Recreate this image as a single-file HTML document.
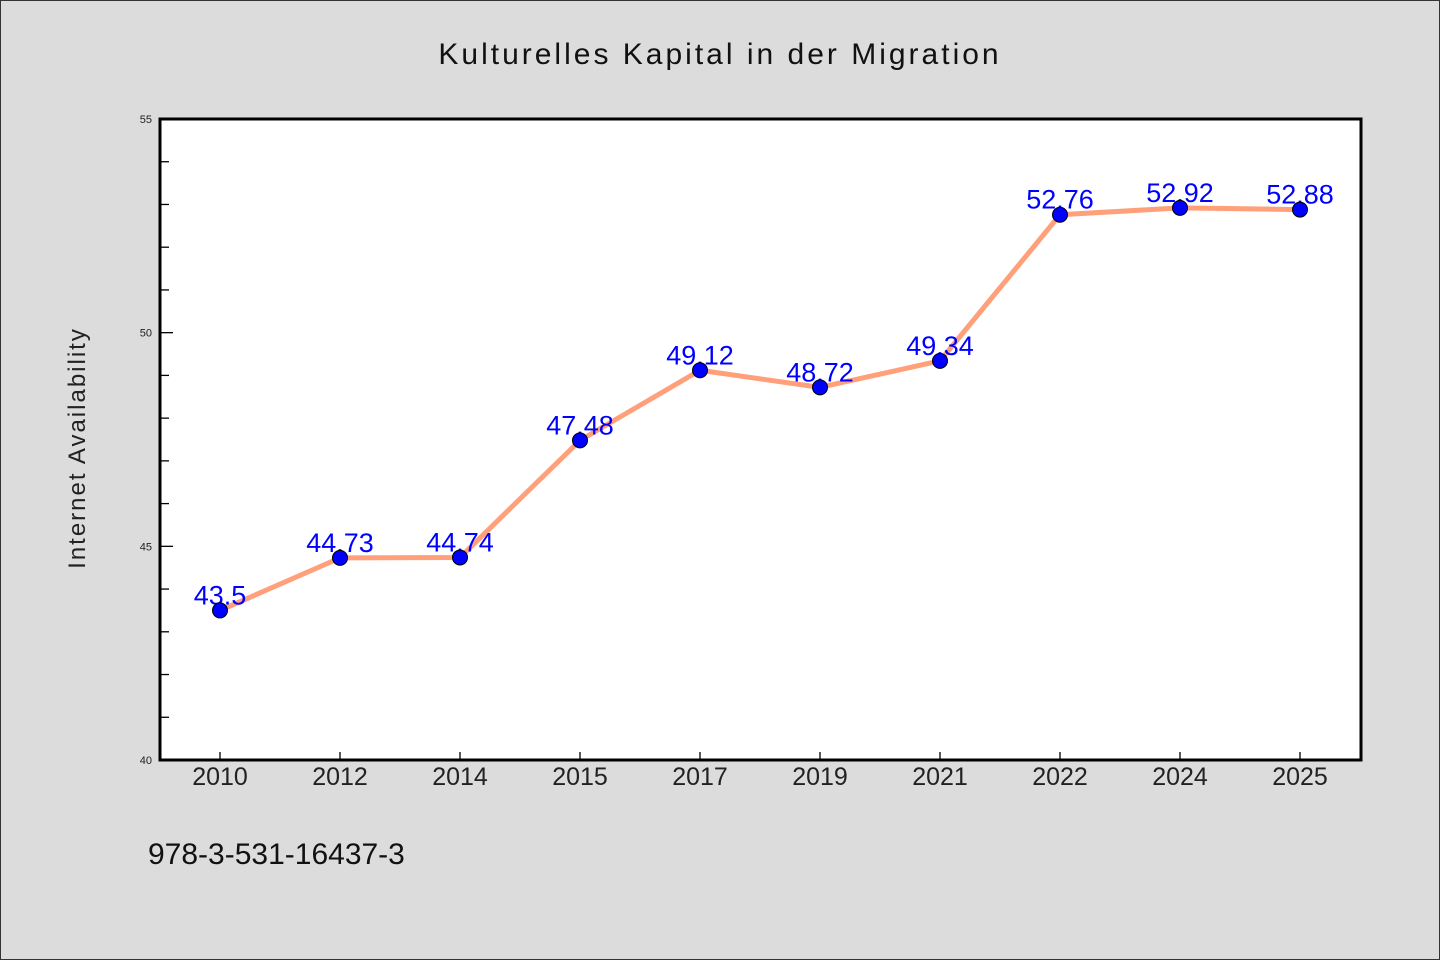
<!DOCTYPE html>
<html><head><meta charset="utf-8"><style>
body{margin:0;background:#dcdcdc;}
svg{display:block;font-family:"WenQuanYi Zen Hei","Liberation Sans",sans-serif;}
</style></head><body>
<svg id="chart" width="1440" height="960" viewBox="0 0 1440 960">
<rect x="0.5" y="0.5" width="1439" height="959" fill="#dcdcdc" stroke="#333" stroke-width="1"/>
<text x="720" y="64" text-anchor="middle" font-size="30" letter-spacing="3" fill="#111">Kulturelles Kapital in der Migration</text>
<rect x="160" y="119" width="1201" height="641" fill="#fff"/>
<g id="ticks"></g>
<text transform="translate(85,448) rotate(-90)" text-anchor="middle" font-size="24" letter-spacing="2" fill="#222">Internet Availability</text>
<text x="148" y="864" font-size="30" fill="#111">978-3-531-16437-3</text>
<g id="series"></g>
<rect x="160" y="119" width="1201" height="641" fill="none" stroke="#000" stroke-width="3"/>
</svg>
<script>
const categories=["2010","2012","2014","2015","2017","2019","2021","2022","2024","2025"];
const values=[43.5,44.73,44.74,47.48,49.12,48.72,49.34,52.76,52.92,52.88];
const valueLabels=["43.5","44.73","44.74","47.48","49.12","48.72","49.34","52.76","52.92","52.88"];
const yTicks=[40,45,50,55];
const yMin=40,yMax=55;
const NS="http://www.w3.org/2000/svg";
function x(i){return 220+i*120;}
function y(v){return 760-(v-yMin)/(yMax-yMin)*641;}
function mk(t,a,p){const e=document.createElementNS(NS,t);for(const k in a)e.setAttribute(k,a[k]);p.appendChild(e);return e;}
const tk=document.getElementById('ticks');
for(let v=yMin;v<=yMax;v++){
  const major=yTicks.includes(v);
  const l=mk('line',{x1:160,x2:major?173:169,y1:y(v),y2:y(v),stroke:'#000','stroke-width':1.3},tk);
  
  
}
yTicks.forEach(v=>{
  const t=mk('text',{x:152,y:y(v)+4,'text-anchor':'end','font-size':11,fill:'#222'},tk);
  t.textContent=v;
  
  
});
categories.forEach((c,i)=>{
  const l=mk('line',{x1:x(i),x2:x(i),y1:760,y2:752,stroke:'#000','stroke-width':1.3},tk);
  
  
  const t=mk('text',{x:x(i),y:785,'text-anchor':'middle','font-size':25,fill:'#222'},tk);
  t.textContent=c;
  
  
});
const s=document.getElementById('series');
const pl=mk('polyline',{points:values.map((v,i)=>x(i)+','+y(v)).join(' '),fill:'none',stroke:'#ffa07a','stroke-width':5,'stroke-linejoin':'round'},s);


values.forEach((v,i)=>{
  const t=mk('text',{x:x(i),y:y(v)-6,'text-anchor':'middle','font-size':27,fill:'#0000ff'},s);
  t.textContent=valueLabels[i];
  
  
});
values.forEach((v,i)=>{
  const c=mk('circle',{cx:x(i),cy:y(v),r:7.5,fill:'#0000ff',stroke:'#000','stroke-width':1},s);
  
  
});
</script>
</body></html>
